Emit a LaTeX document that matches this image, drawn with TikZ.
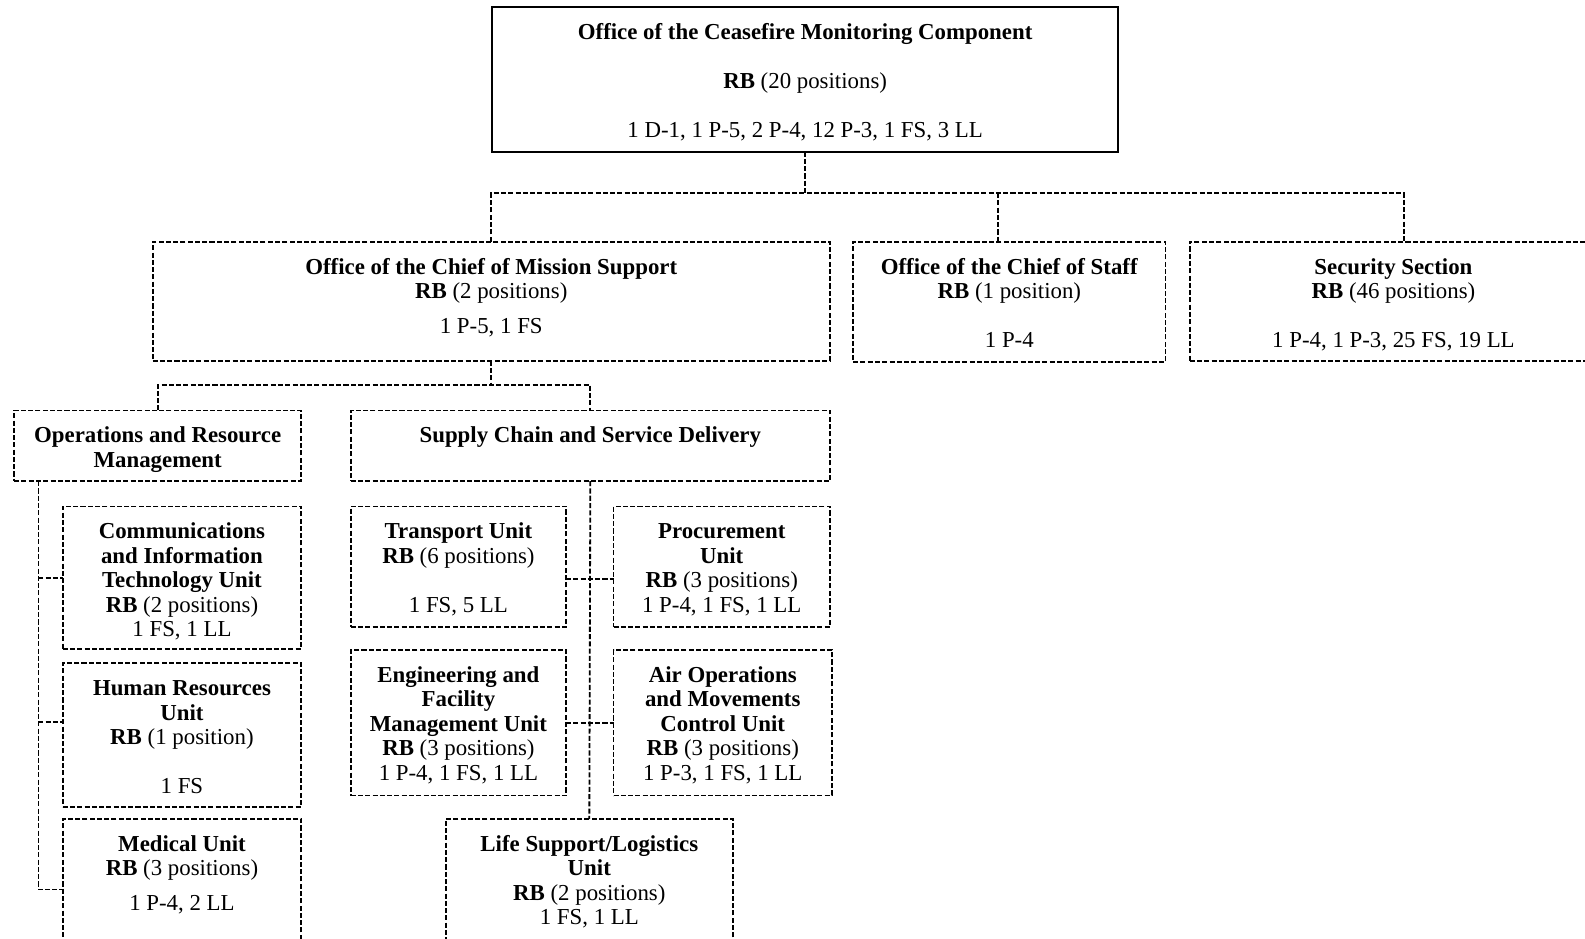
\documentclass[tikz,border=0pt]{standalone}
\usepackage{fontspec}
\setmainfont{Liberation Serif}
\usetikzlibrary{calc}
% one drawing unit = 0.5pt
\newlength{\ulen}\setlength{\ulen}{0.5pt}
% box body: width, height (in drawing units), centred lines with a fixed first baseline
\newcommand{\cellbox}[3]{\parbox[t][#2\ulen][t]{#1\ulen}{\centering\rule{0pt}{16.1pt}#3}}
\begin{document}
\begin{tikzpicture}[x=0.5pt,y=-0.5pt,
  orgbox/.style={draw, line width=0.9pt, dash pattern=on 2.5pt off 1.1pt,
    inner sep=0pt, outer sep=0pt, anchor=north west,
    font=\fontsize{11.3pt}{12.1pt}\selectfont},
  headbox/.style={orgbox, solid, line width=1.1pt},
  link/.style={line width=0.9pt, dash pattern=on 2.5pt off 1.1pt}]
\useasboundingbox (0,0) rectangle (1568,928);
\clip (0,0) rectangle (1568,928);

% top level
\node[headbox] (cms) at (487,7) {\cellbox{619}{143}{\textbf{Office of the Ceasefire Monitoring Component}\\[12.1pt]
  \textbf{RB} (20 positions)\\[12.1pt] 1 D-1, 1 P-5, 2 P-4, 12 P-3, 1 FS, 3 LL}};

% second level
\node[orgbox] (mission) at (151,239) {\cellbox{670}{118}{\textbf{Office of the Chief of Mission Support}\\
  \textbf{RB} (2 positions)\\[5pt] 1 P-5, 1 FS}};
\node[orgbox] (cos) at (844,239) {\cellbox{309}{119}{\textbf{Office of the Chief of Staff}\\
  \textbf{RB} (1 position)\\[12.1pt] 1 P-4}};
\node[orgbox] (sec) at (1177,239) {\cellbox{403}{118}{\textbf{Security Section}\\
  \textbf{RB} (46 positions)\\[12.1pt] 1 P-4, 1 P-3, 25 FS, 19 LL}};

% mission support pillars
\node[orgbox] (ops) at (14,406) {\cellbox{284}{70}{\textbf{Operations and Resource}\\ \textbf{Management}}};
\node[orgbox] (supply) at (347,406) {\cellbox{474}{70}{\textbf{Supply Chain and Service Delivery}}};

% operations and resource management units
\node[orgbox] (cit) at (62,501) {\cellbox{236}{141}{\textbf{Communications}\\ \textbf{and Information}\\
  \textbf{Technology Unit}\\ \textbf{RB} (2 positions)\\ 1 FS, 1 LL}};
\node[orgbox] (hr) at (62,656) {\cellbox{236}{142}{\textbf{Human Resources}\\ \textbf{Unit}\\
  \textbf{RB} (1 position)\\[12.1pt] 1 FS}};
\node[orgbox] (med) at (62,810) {\cellbox{236}{150}{\textbf{Medical Unit}\\
  \textbf{RB} (3 positions)\\[5pt] 1 P-4, 2 LL}};

% supply chain units
\node[orgbox] (transport) at (347,501) {\cellbox{213}{119}{\textbf{Transport Unit}\\
  \textbf{RB} (6 positions)\\[12.1pt] 1 FS, 5 LL}};
\node[orgbox] (proc) at (607,501) {\cellbox{214}{119}{\textbf{Procurement}\\ \textbf{Unit}\\
  \textbf{RB} (3 positions)\\ 1 P-4, 1 FS, 1 LL}};
\node[orgbox] (eng) at (347,643) {\cellbox{213}{144}{\textbf{Engineering and}\\ \textbf{Facility}\\
  \textbf{Management Unit}\\ \textbf{RB} (3 positions)\\ 1 P-4, 1 FS, 1 LL}};
\node[orgbox] (air) at (607,643) {\cellbox{216}{144}{\textbf{Air Operations}\\ \textbf{and Movements}\\
  \textbf{Control Unit}\\ \textbf{RB} (3 positions)\\ 1 P-3, 1 FS, 1 LL}};
\node[orgbox] (life) at (441,810) {\cellbox{284}{150}{\textbf{Life Support/Logistics}\\ \textbf{Unit}\\
  \textbf{RB} (2 positions)\\ 1 FS, 1 LL}};

% connector points
\coordinate (bus) at ($(cms.south)+(0,41)$);
\coordinate (cosin) at ($(cos.north west)+(143,0)$);
\coordinate (secin) at ($(sec.north west)+(212,0)$);
\coordinate (mbus) at ($(mission.south)+(0,24)$);
\coordinate (ospine) at ($(ops.south west)+(24,0)$);
\coordinate (hrtap) at ($(hr.north west)+(0,58)$);
\coordinate (medtap) at ($(med.north west)+(0,70)$);
\coordinate (trtap) at ($(transport.north east)+(0,72)$);

% top level links
\draw[link] (cms.south) -- (bus);
\draw[link] (mission.north) |- (bus) -| (secin);
\draw[link] (bus -| cosin) -- (cosin);

% mission support links
\draw[link] (mission.south) -- (mbus);
\draw[link] (ops.north) |- (mbus) -| (supply.north);

% operations and resource management spine
\draw[link] (ospine) |- (medtap);
\draw[link] (ospine |- cit.west) -- (cit.west);
\draw[link] (ospine |- hrtap) -- (hrtap);

% supply chain spine
\draw[link] (supply.south) -- (life.north);
\draw[link] (trtap) -- (trtap -| proc.west);
\draw[link] (eng.east) -- (air.west);
\end{tikzpicture}
\end{document}
